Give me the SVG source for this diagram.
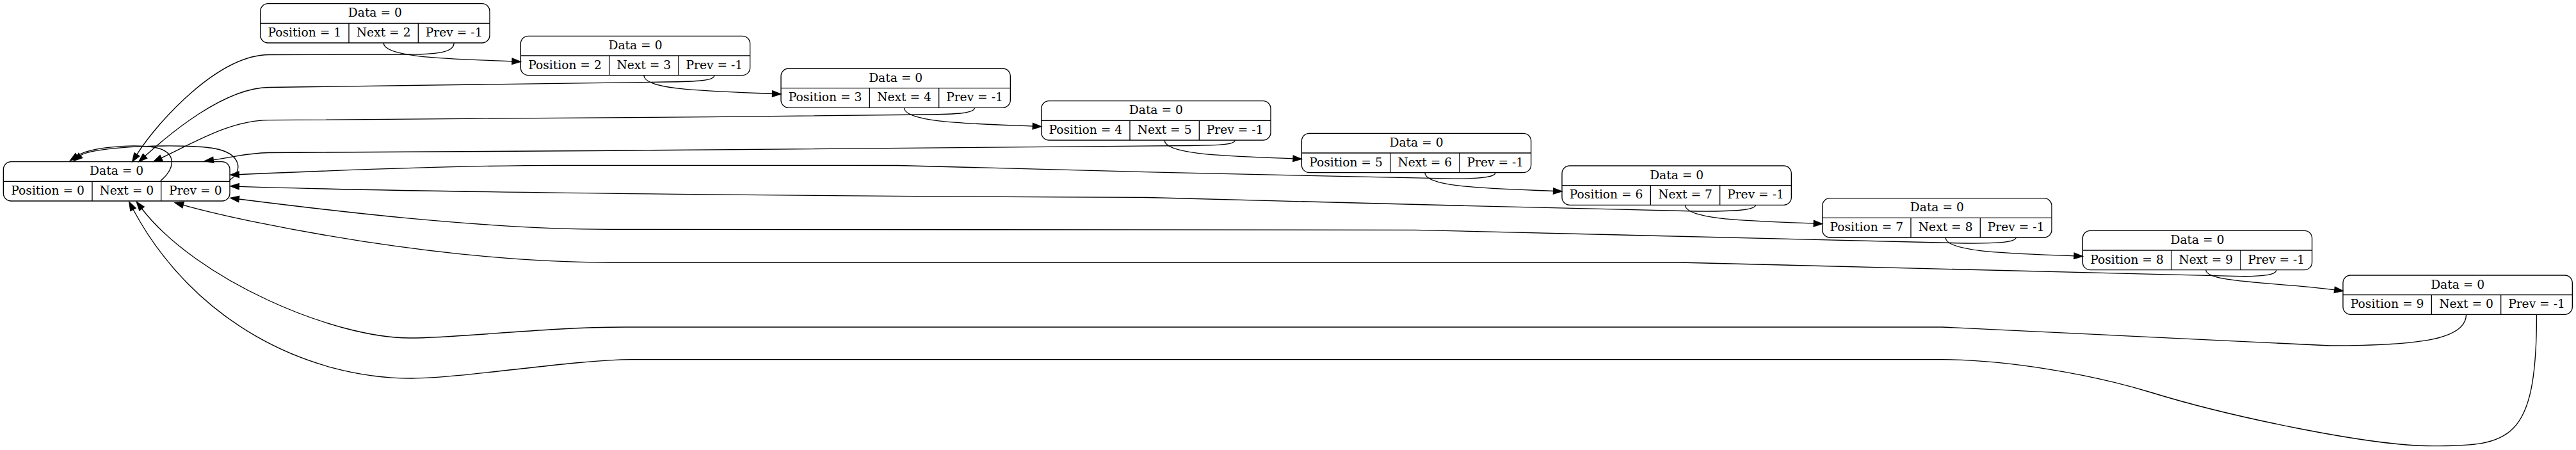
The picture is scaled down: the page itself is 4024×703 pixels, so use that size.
<svg xmlns="http://www.w3.org/2000/svg" width="4024" height="703" viewBox="0 0 4024 703">
<style>
.bg{fill:#fff}
.box{fill:#fff;stroke:#000;stroke-width:1.33}
.sep{stroke:#000;stroke-width:1.33;fill:none}
.t{font-family:"DejaVu Serif",serif;font-size:18.67px;text-anchor:middle;fill:#000}
.e{fill:none;stroke:#000;stroke-width:1.33;marker-end:url(#ah)}
</style>
<defs>
<marker id="ah" markerUnits="userSpaceOnUse" markerWidth="14" markerHeight="10" viewBox="0 0 14 10" refX="0" refY="4.67" orient="auto" overflow="visible">
<path d="M0,0 L13.33,4.67 L0,9.33 z" fill="#000" stroke="#000" stroke-width="1.33"/>
</marker>
</defs>
<rect class="bg" x="0" y="0" width="4024" height="703"/>

<g id="node0" transform="translate(5.33,252.67)">
<rect class="box" x="0" y="0" width="353.67" height="61.33" rx="12"/>
<path class="sep" d="M0,30.67 H353.67 M138.67,30.67 V61.33 M246.33,30.67 V61.33"/>
<text class="t" x="176.8" y="20.7">Data = 0</text>
<text class="t" x="69.3" y="51.4">Position = 0</text>
<text class="t" x="192.5" y="51.4">Next = 0</text>
<text class="t" x="300" y="51.4">Prev = 0</text>
</g>

<g id="node1" transform="translate(406.67,5.67)">
<rect class="box" x="0" y="0" width="358.33" height="61.33" rx="12"/>
<path class="sep" d="M0,30.67 H358.33 M138.33,30.67 V61.33 M246.67,30.67 V61.33"/>
<text class="t" x="179.17" y="20.7">Data = 0</text>
<text class="t" x="69.17" y="51.4">Position = 1</text>
<text class="t" x="192.5" y="51.4">Next = 2</text>
<text class="t" x="302.5" y="51.4">Prev = -1</text>
</g>

<g id="node2" transform="translate(813.33,56.33)">
<rect class="box" x="0" y="0" width="358.33" height="61.33" rx="12"/>
<path class="sep" d="M0,30.67 H358.33 M138.33,30.67 V61.33 M246.67,30.67 V61.33"/>
<text class="t" x="179.17" y="20.7">Data = 0</text>
<text class="t" x="69.17" y="51.4">Position = 2</text>
<text class="t" x="192.5" y="51.4">Next = 3</text>
<text class="t" x="302.5" y="51.4">Prev = -1</text>
</g>

<g id="node3" transform="translate(1220,107)">
<rect class="box" x="0" y="0" width="358.33" height="61.33" rx="12"/>
<path class="sep" d="M0,30.67 H358.33 M138.33,30.67 V61.33 M246.67,30.67 V61.33"/>
<text class="t" x="179.17" y="20.7">Data = 0</text>
<text class="t" x="69.17" y="51.4">Position = 3</text>
<text class="t" x="192.5" y="51.4">Next = 4</text>
<text class="t" x="302.5" y="51.4">Prev = -1</text>
</g>

<g id="node4" transform="translate(1626.67,157.67)">
<rect class="box" x="0" y="0" width="358.33" height="61.33" rx="12"/>
<path class="sep" d="M0,30.67 H358.33 M138.33,30.67 V61.33 M246.67,30.67 V61.33"/>
<text class="t" x="179.17" y="20.7">Data = 0</text>
<text class="t" x="69.17" y="51.4">Position = 4</text>
<text class="t" x="192.5" y="51.4">Next = 5</text>
<text class="t" x="302.5" y="51.4">Prev = -1</text>
</g>

<g id="node5" transform="translate(2033.33,208.33)">
<rect class="box" x="0" y="0" width="358.33" height="61.33" rx="12"/>
<path class="sep" d="M0,30.67 H358.33 M138.33,30.67 V61.33 M246.67,30.67 V61.33"/>
<text class="t" x="179.17" y="20.7">Data = 0</text>
<text class="t" x="69.17" y="51.4">Position = 5</text>
<text class="t" x="192.5" y="51.4">Next = 6</text>
<text class="t" x="302.5" y="51.4">Prev = -1</text>
</g>

<g id="node6" transform="translate(2440,259)">
<rect class="box" x="0" y="0" width="358.33" height="61.33" rx="12"/>
<path class="sep" d="M0,30.67 H358.33 M138.33,30.67 V61.33 M246.67,30.67 V61.33"/>
<text class="t" x="179.17" y="20.7">Data = 0</text>
<text class="t" x="69.17" y="51.4">Position = 6</text>
<text class="t" x="192.5" y="51.4">Next = 7</text>
<text class="t" x="302.5" y="51.4">Prev = -1</text>
</g>

<g id="node7" transform="translate(2846.67,309.67)">
<rect class="box" x="0" y="0" width="358.33" height="61.33" rx="12"/>
<path class="sep" d="M0,30.67 H358.33 M138.33,30.67 V61.33 M246.67,30.67 V61.33"/>
<text class="t" x="179.17" y="20.7">Data = 0</text>
<text class="t" x="69.17" y="51.4">Position = 7</text>
<text class="t" x="192.5" y="51.4">Next = 8</text>
<text class="t" x="302.5" y="51.4">Prev = -1</text>
</g>

<g id="node8" transform="translate(3253.33,360.33)">
<rect class="box" x="0" y="0" width="358.33" height="61.33" rx="12"/>
<path class="sep" d="M0,30.67 H358.33 M138.33,30.67 V61.33 M246.67,30.67 V61.33"/>
<text class="t" x="179.17" y="20.7">Data = 0</text>
<text class="t" x="69.17" y="51.4">Position = 8</text>
<text class="t" x="192.5" y="51.4">Next = 9</text>
<text class="t" x="302.5" y="51.4">Prev = -1</text>
</g>

<g id="node9" transform="translate(3660,430)">
<rect class="box" x="0" y="0" width="358.33" height="61.33" rx="12"/>
<path class="sep" d="M0,30.67 H358.33 M138.33,30.67 V61.33 M246.67,30.67 V61.33"/>
<text class="t" x="179.17" y="20.7">Data = 0</text>
<text class="t" x="69.17" y="51.4">Position = 9</text>
<text class="t" x="192.5" y="51.4">Next = 0</text>
<text class="t" x="302.5" y="51.4">Prev = -1</text>
</g>

<g id="edges">
<!-- next edges -->
<path class="e" d="M599.17,67 C599.17,90 700,91.8 800,95.8"/>
<path class="e" d="M1005.83,117.67 C1005.83,140.67 1106.6,142.47 1206.6,146.47"/>
<path class="e" d="M1412.5,168.33 C1412.5,191.33 1513.3,193.13 1613.3,197.13"/>
<path class="e" d="M1819.17,219 C1819.17,242 1920,243.8 2020,247.8"/>
<path class="e" d="M2225.83,269.67 C2225.83,292.67 2326.6,294.47 2426.6,298.47"/>
<path class="e" d="M2632.5,320.33 C2632.5,343.33 2733.3,345.13 2833.3,349.13"/>
<path class="e" d="M3039.17,371 C3039.17,394 3140,395.8 3240,399.8"/>
<path class="e" d="M3445.83,421.67 C3445.83,442 3560,441 3646.8,452.8"/>
<path class="e" d="M3852.5,491.33 C3852.5,530 3780,540 3640,540 L3034,511 L976,511 C850,511 720,528 640,528 C520,528 307.2,436.7 221.5,326"/>
<!-- prev edges -->
<path class="e" d="M709.17,67 C709.17,80 690,85 640,85 L420,85.5 C340,86 245.9,190.8 213.8,241.4"/>
<path class="e" d="M1115.83,117.67 C1115.83,126 1090,127.5 1040,128 C800,131 600,135 420,136.5 C350,137 263.6,210.3 226.6,243.8"/>
<path class="e" d="M1522.5,168.33 C1522.5,177 1495,178.5 1445,179 C1100,183 700,187 420,187.7 C360,188 305,222 252,246.8"/>
<path class="e" d="M1929.17,219 C1929.17,226 1905,227 1860,227.5 C1500,232 900,236 420,238.5 C385,239 360,246.5 333.2,249.8"/>
<path class="e" d="M2335.83,269.67 C2335.83,277 2310,279.2 2270,279.2 C2150,279 1550,262 1402,258.5 L874,258.3 C700,258.3 480,268 373.3,272.6"/>
<path class="e" d="M2742.5,320.33 C2742.5,328 2710,330.5 2650,330 C2400,325 1900,311 1792,308.5 C1400,307 700,302 373.3,291.3"/>
<path class="e" d="M3149.17,371 C3149.17,379 3115,380.5 3070,380 L2211,359.3 L953,358.3 C750,358.3 500,327 373.2,311"/>
<path class="e" d="M3555.83,421.67 C3555.83,430 3530,432 3500,431.7 L2622.7,410 L953,410 C700,410 400,352 286.1,320.3"/>
<path class="e" d="M3962.5,491.33 C3962.5,690.7 3920,696.7 3800,696.7 C3700,696.7 3480,650 3360,613 C3264.4,583.5 3130,561.7 3034,561.7 L987,561.7 C900,561.7 720,591 643,591 C480,591 302.6,503.4 208,327.2"/>
<!-- self loops -->
<path class="e" d="M250.7,282.7 C275,262 275,238 245,231 C210,224 140,230 120.5,243.4"/>
<path class="e" d="M358.3,281.7 C380,268 378,240 335,232 C292,224 145,228 125.7,243"/>
</g>
</svg>
